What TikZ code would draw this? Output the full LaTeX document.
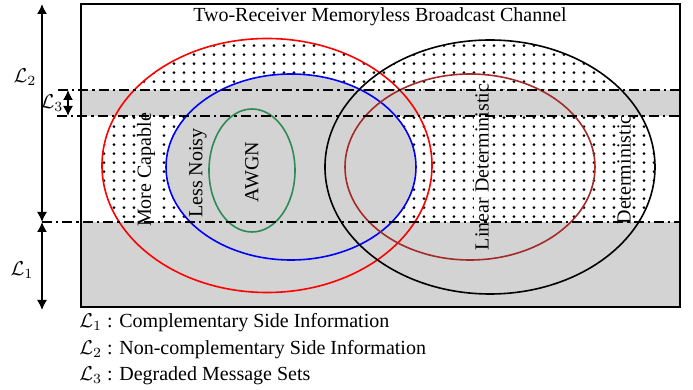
\documentclass[tikz,border=0pt]{standalone}
\usepackage{fontspec}
\setmainfont{Liberation Serif}
\usepackage{xcolor}
\usepackage{tikz}
\usetikzlibrary{arrows.meta,patterns,positioning}
\definecolor{shadegray}{RGB}{211,211,211}
\definecolor{awgngreen}{RGB}{46,139,87}
\definecolor{detbrown}{RGB}{165,42,42}
\pgfdeclarepatternformonly{sparsedots}{\pgfpointorigin}{\pgfpoint{5pt}{4.4pt}}{\pgfpoint{5pt}{4.4pt}}%
  {\pgfpathcircle{\pgfpoint{2.5pt}{2.2pt}}{0.75pt}\pgfusepath{fill}}
\pgfdeclarelayer{dotlayer}
\pgfdeclarelayer{boxlayer}
\pgfdeclarelayer{graylayer}
\pgfsetlayers{dotlayer,boxlayer,graylayer,main}

\begin{document}
\begin{tikzpicture}[x=0.5pt,y=-0.5pt,
	level/.style={dash pattern=on 5pt off 2pt on 1.2pt off 2pt, line width=0.75pt},
	span/.style={{Latex[length=5pt,width=5pt]}-{Latex[length=5pt,width=5pt]}, line width=0.75pt},
	oval/.style={line width=0.8pt},
	classname/.style={rotate=90, inner sep=0.5pt},
	legend/.style={anchor=base west, inner sep=0pt}]
	\useasboundingbox (0,0) rectangle (693,390);
	% levels of the side information
	\coordinate (top) at (42,4);
	\coordinate (mid) at (42,222);
	\coordinate (bot) at (42,310);
	\coordinate (dmtop) at (68,90);
	\coordinate (dmbot) at (68,116);
	% dotted channel classes
	\begin{pgfonlayer}{dotlayer}
		\clip (81,4) rectangle (680,307);
		\fill[pattern=sparsedots] (267,165.5) ellipse (165 and 127) (490,167) ellipse (165 and 127);
	\end{pgfonlayer}
	\begin{pgfonlayer}{graylayer}
		\fill[shadegray] (81,90) rectangle (680,116);
		\fill[shadegray] (81,222) rectangle (680,307);
		\fill[shadegray] (291,167) ellipse (125 and 93);
	\end{pgfonlayer}
	\draw[red, oval] (267,165.5) ellipse (165 and 127);
	\draw[blue, oval] (291,167) ellipse (125 and 93);
	\draw[awgngreen, oval] (252,170.5) ellipse (43 and 61.5);
	\draw[black, oval] (490,167) ellipse (165 and 127);
	\draw[detbrown, oval] (470,167) ellipse (125 and 93);
	\draw[level] (58,90) -- (680,90);
	\draw[level] (57,116) -- (680,116);
	\draw[level] (mid) -- (680,222);
	\draw[line width=1pt] (81,4) rectangle (680,307);
	\node (title) at (380,17) {Two-Receiver Memoryless Broadcast Channel};
	% class names
	\node[classname] (morecap) at (146,170) {More Capable};
	\node[classname] (lessnoisy) at (198,173) {Less Noisy};
	\node[classname] (awgn) at (252,172) {AWGN};
	\node[classname] (lindet) at (482,167) {Linear Deterministic};
	\node[classname] (det) at (624,170) {Deterministic};
	\begin{pgfonlayer}{boxlayer}
		\foreach \n in {morecap,lindet,det}
			\fill[white] (\n.south west) rectangle (\n.north east);
	\end{pgfonlayer}
	% side information arrows
	\draw[span] (top) -- (mid);
	\draw[span] (mid) -- (bot);
	\draw[span] (dmtop) -- (dmbot);
	\node (l2) at (25,77) {$\mathcal{L}_2$};
	\node (l3) at (52,103) {$\mathcal{L}_3$};
	\node (l1) at (22,270) {$\mathcal{L}_1$};
	% legend
	\node[legend] (leg1) at (79,328) {$\mathcal{L}_1$ : Complementary Side Information};
	\node[legend] (leg2) at (79,354.5) {$\mathcal{L}_2$ : Non-complementary Side Information};
	\node[legend] (leg3) at (79,381) {$\mathcal{L}_3$ : Degraded Message Sets};
\end{tikzpicture}
\end{document}
